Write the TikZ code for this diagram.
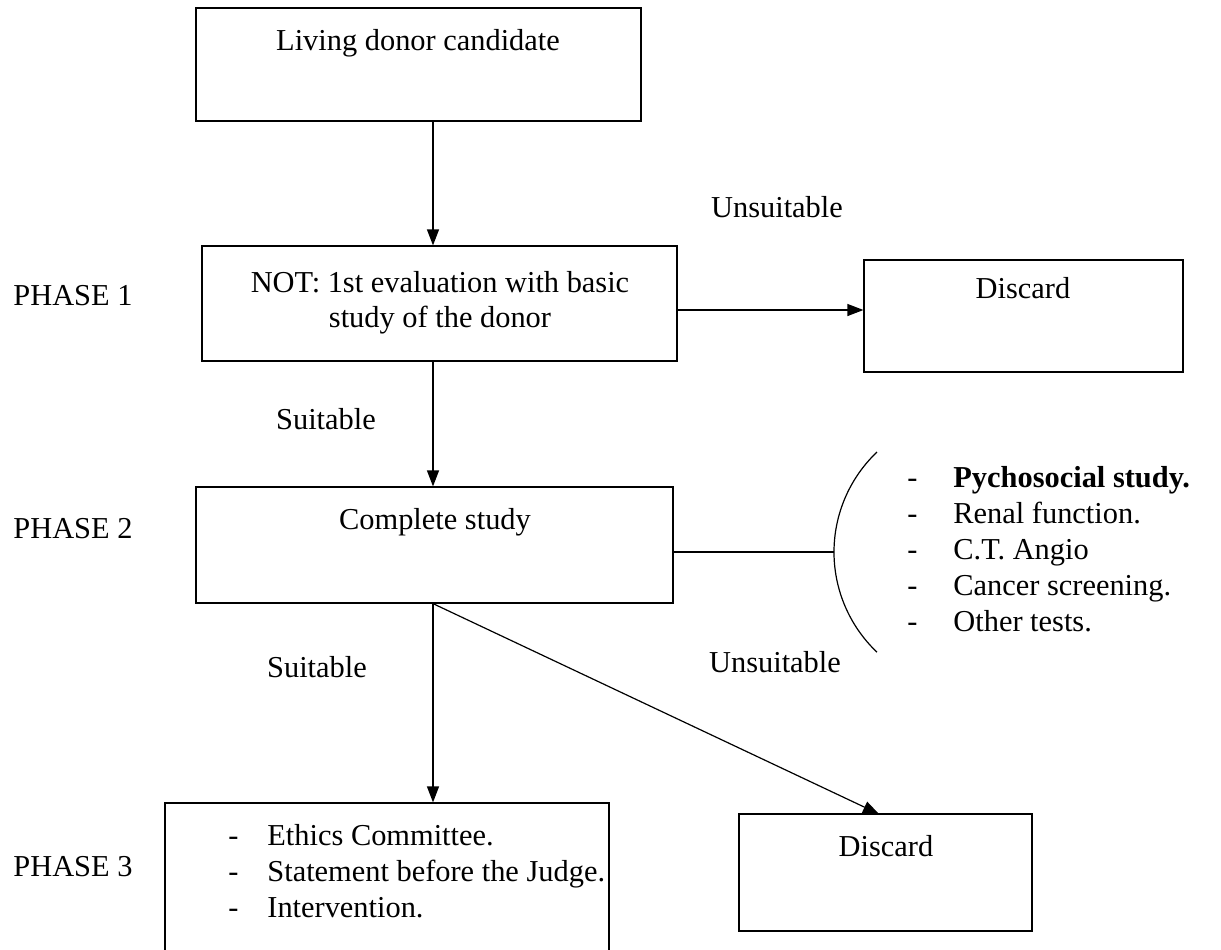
\documentclass[tikz,border=0pt]{standalone}
\usepackage{fontspec}
\setmainfont{Liberation Serif}
\usetikzlibrary{arrows.meta,positioning,fit}

\tikzset{
  box/.style={draw, line width=0.6pt, inner sep=0pt},
  txt/.style={inner sep=0pt, anchor=base, font=\fontsize{15.2}{18}\selectfont},
  ltxt/.style={txt, anchor=base west},
  arr/.style={line width=0.6pt, -{Triangle[length=8pt,width=6pt]}}
}

\begin{document}
\begin{tikzpicture}[x=0.5pt,y=-0.5pt]
    \clip (0,0) rectangle (1221,949);
    \fill[white] (0,0) rectangle (1221,949);
    \coordinate (axis) at (433,0);
    % candidate
    \node[box, fit={(196,8) (641,121)}] (cand) {};
    \node[txt] (candtxt) at (418,50) {Living donor candidate};
    % phase 1
    \node[box, fit={(202,246) (677,361)}] (first) {};
    \node[txt] (firsta) at (440,292) {NOT: 1st evaluation with basic};
    \node[txt] (firstb) at (440,327) {study of the donor};
    \node[ltxt] (ph1) at (13,305) {PHASE 1};
    \node[box, fit={(864,260) (1183,372)}] (drop1) {};
    \node[txt] (drop1txt) at (1023,298) {Discard};
    \node[txt] (uns1) at (777,217) {Unsuitable};
    \coordinate (side) at (0,310);
    \draw[arr] (cand.south -| axis) -- (first.north -| axis);
    \draw[arr] (first.east |- side) -- (drop1.west |- side);
    % phase 2
    \node[box, fit={(196,487) (673,603)}] (full) {};
    \node[txt] (fulltxt) at (435,529) {Complete study};
    \node[ltxt] (ph2) at (13,538) {PHASE 2};
    \node[txt] (suit1) at (326,429) {Suitable};
    \draw[arr] (first.south -| axis) -- (full.north -| axis);
    % tests
    \coordinate (brace) at (834,552);
    \draw[line width=0.6pt] (877,452) arc[start angle=133.5, end angle=226.5, radius=69pt];
    \draw[line width=0.6pt] (full.east |- brace) -- (brace);
    \foreach \y/\t [count=\i] in {487/\textbf{Pychosocial study.}, 523/Renal function.,
        559/C.T. Angio, 595/Cancer screening., 631/Other tests.} {
      \node[ltxt] (dash\i) at (907,\y) {-};
      \node[ltxt] (test\i) at (953,\y) {\t};
    }
    % phase 3
    \node[box, fit={(165,803) (609,975)}] (legal) {};
    \foreach \y/\t [count=\i] in {845/Ethics Committee., 881/Statement before the Judge.,
        917/Intervention.} {
      \node[ltxt] (ldash\i) at (228,\y) {-};
      \node[ltxt] (step\i) at (267,\y) {\t};
    }
    \node[ltxt] (ph3) at (13,876) {PHASE 3};
    \node[box, fit={(739,814) (1032,931)}] (drop2) {};
    \node[txt] (drop2txt) at (886,856) {Discard};
    \node[txt] (suit2) at (317,677) {Suitable};
    \node[txt] (uns2) at (775,672) {Unsuitable};
    \coordinate (tip) at (879,814);
    \draw[arr] (full.south -| axis) -- (legal.north -| axis);
    \draw[arr] (full.south -| axis) -- (tip);
\end{tikzpicture}
\end{document}
